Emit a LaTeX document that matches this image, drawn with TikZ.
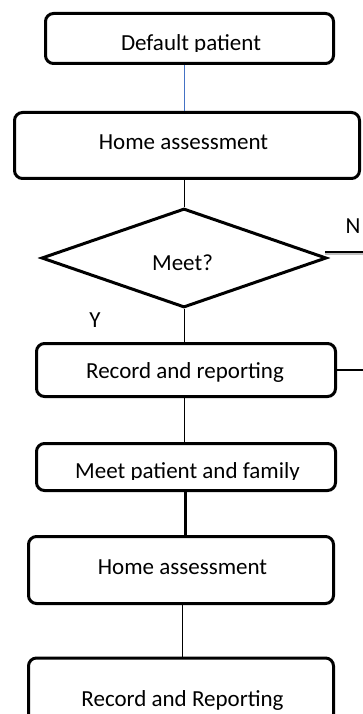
\documentclass[tikz,border=0pt]{standalone}
\usepackage{fontspec}
\setmainfont{Carlito}
\usetikzlibrary{shapes.geometric}
\definecolor{linkblue}{RGB}{68,114,196}
\tikzset{
  box/.style={draw=black, line width=3pt, rounded corners=8pt, rectangle, inner sep=0pt},
  lbl/.style={anchor=base, inner sep=0pt, font=\fontsize{23}{27}\selectfont},
  thin link/.style={draw=black, line width=1pt},
  thick link/.style={draw=black, line width=3pt},
}
\begin{document}
\begin{tikzpicture}[x=1pt,y=-1pt]
\useasboundingbox (0,0) rectangle (363,714);
% boxes
\node[box, minimum width=288pt, minimum height=50pt] (b1) at (189.5,38.5) {};
\node[box, minimum width=345pt, minimum height=66pt] (b2) at (187,145.5) {};
\node[draw=black, line width=3pt, diamond, inner sep=0pt, minimum width=285pt, minimum height=99pt] (d) at (184,258) {};
\node[box, minimum width=299pt, minimum height=53pt] (r1) at (186,370) {};
\node[box, minimum width=299pt, minimum height=47pt] (m) at (186,467) {};
\node[box, minimum width=305pt, minimum height=67pt] (h2) at (181,570) {};
\node[box, minimum width=305pt, minimum height=64pt] (r2) at (181,690) {};
% texts
\begin{scope}
\clip (0,0) rectangle (363,52);
\node[lbl] (t1) at (191,50.5) {Default patient};
\end{scope}
\node[lbl] (t2) at (183.5,150) {Home assessment};
\node[lbl] (t3) at (182.5,270) {Meet?};
\node[lbl] (tr1) at (185,378) {Record and reporting};
\begin{scope}
\clip (0,0) rectangle (363,479);
\node[lbl] (tm) at (187.5,478) {Meet patient and family};
\end{scope}
\node[lbl] (th2) at (182.5,574) {Home assessment};
\node[lbl] (tr2) at (182.5,706) {Record and Reporting};
\node[lbl] (ty) at (95,327) {Y};
\node[lbl] (tn) at (353,233) {N};
% connectors
\coordinate (s1) at (184,0);
\coordinate (s2) at (185,0);
\coordinate (s3) at (182,0);
\coordinate (nstart) at ([xshift=-3pt]d.east);
\coordinate (nend) at (363,252);
\coordinate (nshad) at (363,254);
\coordinate (rend) at (363,370);
\draw[draw=linkblue, line width=1pt] (b1.south -| s1) -- (b2.north -| s1);
\draw[thin link] (b2.south -| s1) -- (d.north);
\draw[thin link] (d.south) -- (r1.north -| s1);
\draw[thin link] (r1.south -| s1) -- (m.north -| s1);
\draw[thick link] (m.south -| s2) -- (h2.north -| s2);
\draw[thin link] (h2.south -| s3) -- (r2.north -| s3);
\draw[draw=gray!50, line width=1.5pt] (nstart |- nshad) -- (nshad);
\draw[draw=black, line width=2pt] (nstart |- nend) -- (nend);
\draw[draw=black, line width=2pt] (r1.east) -- (rend);
\end{tikzpicture}
\end{document}
